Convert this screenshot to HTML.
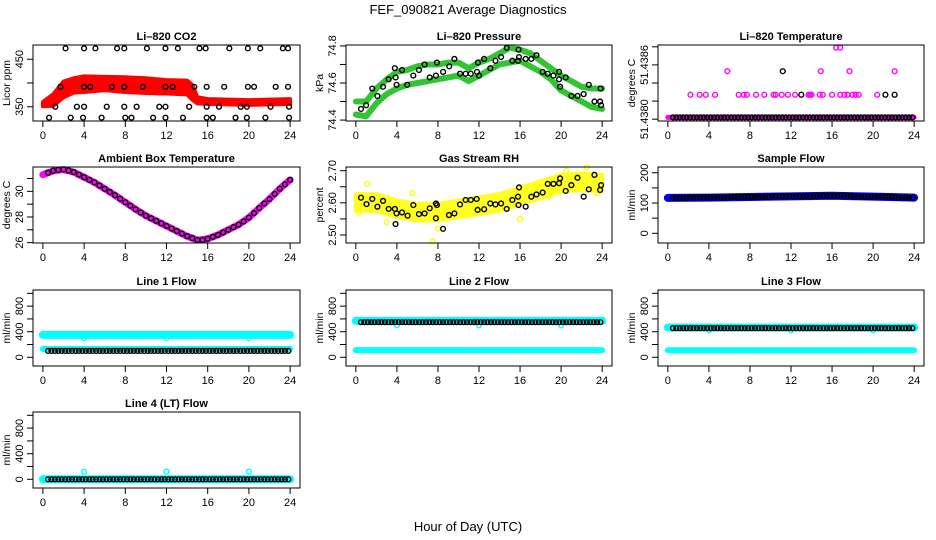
<!DOCTYPE html>
<html><head><meta charset="utf-8"><style>
html,body{margin:0;padding:0;background:#fff;}
svg{display:block;font-family:"Liberation Sans",Arial,sans-serif;}
</style></head><body>
<svg id="chart" width="936" height="540" viewBox="0 0 936 540" xmlns="http://www.w3.org/2000/svg">
<text x="468" y="14" text-anchor="middle" font-size="13">FEF_090821  Average Diagnostics</text>
<text x="468" y="531" text-anchor="middle" font-size="13">Hour of Day (UTC)</text>
</svg>
<script>
// ---------- data ----------
const xTicks=[0,4,8,12,16,20,24];
// CO2
const co2BandHours=[0,1,2,3,4,6,8,10,12,14,14.5,15,16,18,20,22,24];
const co2Upper=[360,376,403,410,414,413,412,410,406,405,396,370,366,365,364,365,366];
const co2Lower=[351,352,370,380,381,385,381,379,378,376,365,357,356,355,354,355,356];
const co2BlackHours=[2.2,4.0,5.1,7.2,7.9,10.1,11.9,13.1,15.2,15.8,18.1,19.9,21.1,23.3,23.8,
 1.7,4.0,4.6,6.7,7.9,9.7,11.9,12.6,14.7,15.9,17.6,19.9,20.5,22.6,23.8,
 1.2,3.3,4.0,6.2,7.9,9.1,11.3,11.9,14.2,15.9,17.1,19.2,19.8,22.1,23.9,
 0.6,2.7,3.9,5.7,8.0,8.6,10.7,11.9,13.6,15.9,16.5,18.7,19.8,21.6,23.9];
const co2BlackVals=[473,473,473,473,473,473,473,473,473,473,473,473,473,473,473,
 392,392,392,392,392,392,392,392,392,392,392,392,392,392,392,
 350,350,350,350,350,350,350,350,350,350,350,350,350,350,350,
 327,327,327,327,327,327,327,327,327,327,327,327,327,327,327];
// Pressure
const presHours=[0,1,2,3,4,5,6,7,8,9,10,11,12,13,14,15,16,17,18,19,20,21,22,23,24];
const presUpper=[74.50,74.50,74.57,74.62,74.66,74.67,74.69,74.70,74.70,74.71,74.71,74.68,74.71,74.73,74.76,74.79,74.78,74.76,74.72,74.68,74.64,74.61,74.58,74.57,74.57];
const presLower=[74.43,74.42,74.49,74.54,74.57,74.59,74.60,74.61,74.62,74.63,74.64,74.61,74.64,74.67,74.70,74.71,74.72,74.69,74.66,74.62,74.56,74.53,74.50,74.47,74.46];
const presBlackHours=[0.5,1.0,1.6,2.1,2.65,3.2,3.8,3.87,3.97,4.5,5.0,5.6,6.15,6.7,7.2,7.8,7.9,8.5,9.1,9.6,10.15,10.7,11.2,11.8,11.9,12.0,12.5,13.1,13.6,14.15,14.7,15.25,15.8,15.85,15.9,16.55,17.1,17.6,18.2,18.7,19.25,19.8,19.8,19.9,20.45,21.0,21.6,22.2,22.7,23.25,23.8,23.9,23.85];
const presBlackVals=[74.46,74.48,74.57,74.53,74.58,74.62,74.68,74.63,74.59,74.67,74.59,74.64,74.67,74.70,74.63,74.64,74.71,74.66,74.69,74.73,74.65,74.65,74.65,74.66,74.71,74.64,74.73,74.68,74.72,74.74,74.79,74.72,74.72,74.78,74.74,74.73,74.73,74.75,74.66,74.65,74.64,74.66,74.62,74.58,74.63,74.53,74.53,74.54,74.59,74.50,74.50,74.48,74.57];
// Li-820 temperature
const tempPinkHours=[2.2,3.1,3.7,4.6,6.9,7.4,7.7,8.6,9.4,10.3,10.5,11.1,11.7,12.4,13.7,13.85,14.0,14.8,15.1,16.0,16.8,17.2,17.5,18.0,18.3,18.6,20.4,5.8,14.9,17.7,22.1,16.4,16.8];
const tempPinkVals=[51.43827,51.43827,51.43827,51.43827,51.43827,51.43827,51.43827,51.43827,51.43827,51.43827,51.43827,51.43827,51.43827,51.43827,51.43827,51.43827,51.43827,51.43827,51.43827,51.43827,51.43827,51.43827,51.43827,51.43827,51.43827,51.43827,51.43827,51.43853,51.43853,51.43853,51.43853,51.43879,51.43879];
const tempBlackHours=[13.0,21.2,22.1,11.2];
const tempBlackVals=[51.43827,51.43827,51.43827,51.43853];
const tempBaseVal=51.43802;
// Ambient box temperature
const ambHours=[0,1,2,3,4,5,6,7,8,9,10,11,12,13,14,15,16,17,18,19,20,21,22,23,24];
const ambVals=[31.3,31.6,31.7,31.5,31.1,30.7,30.2,29.7,29.15,28.6,28.1,27.7,27.3,26.9,26.5,26.2,26.3,26.6,27.0,27.4,27.95,28.7,29.4,30.2,30.9];
const ambBlackHours=[0.5,1,1.5,2,2.5,3,3.5,4,4.5,5,5.5,6,6.5,7,7.5,8,8.5,9,9.5,10,10.5,11,11.5,12,12.5,13,13.5,14,14.5,15,15.5,16,16.5,17,17.5,18,18.5,19,19.5,20,20.5,21,21.5,22,22.5,23,23.5,24];
const ambBlackVals=[31.45,31.6,31.68,31.7,31.62,31.5,31.3,31.1,30.9,30.7,30.45,30.2,29.95,29.7,29.42,29.15,28.88,28.6,28.35,28.1,27.9,27.7,27.5,27.3,27.1,26.9,26.7,26.5,26.35,26.2,26.2,26.3,26.45,26.6,26.8,27.0,27.2,27.4,27.65,27.95,28.3,28.7,29.05,29.4,29.8,30.2,30.55,30.9];
// Gas stream RH
const rhHours=[0,2,4,6,8,10,12,14,16,18,20,22,24];
const rhCenter=[2.60,2.60,2.58,2.57,2.57,2.58,2.59,2.60,2.62,2.64,2.66,2.665,2.66];
const rhBlackHours=[0.5,1.04,1.6,2.1,2.65,3.2,3.8,3.87,3.97,4.5,5.04,5.6,6.15,6.7,7.2,7.8,7.8,7.9,8.5,9.07,9.6,10.15,10.7,11.2,11.77,11.87,12.5,13.1,13.6,14.15,14.7,15.25,15.8,15.85,15.9,16.55,17.1,17.6,18.2,18.7,19.25,19.8,19.9,20.45,21.0,21.6,22.2,22.7,23.25,23.8,23.9];
const rhBlackVals=[2.616,2.596,2.612,2.588,2.606,2.581,2.581,2.534,2.567,2.570,2.560,2.593,2.565,2.567,2.583,2.598,2.552,2.593,2.519,2.562,2.567,2.595,2.609,2.609,2.612,2.578,2.580,2.598,2.595,2.598,2.581,2.609,2.619,2.593,2.648,2.588,2.619,2.626,2.632,2.659,2.659,2.661,2.676,2.637,2.655,2.678,2.619,2.642,2.687,2.640,2.655];
const rhOutHours=[7.5,8.0,1.1,3.0,16.0,20.5,22.5,0.3,5.5,18.8,23.5];
const rhOutVals=[2.48,2.52,2.66,2.54,2.55,2.70,2.71,2.57,2.63,2.62,2.63];
// Sample flow
const sfHours=[0,4,8,12,16,20,24];
const sfVals=[117,118,120,122,124,121,118];
// Line flows
const l1High=350, l1Low=130, l1Black=100, l1Out=300;
const l2High=570, l2Low=113, l2Black=549, l2Out=500;
const l3High=465, l3Low=110, l3Black=456, l3Out=420;
const l4Cyan=0, l4Black=0, l4Out=120;
const outlierHours=[4,12,20];

// ---------- drawing ----------
const svg=document.getElementById('chart');
const NS='http://www.w3.org/2000/svg';
function mk(tag,attrs,parent){const e=document.createElementNS(NS,tag);for(const k in attrs)e.setAttribute(k,attrs[k]);(parent||svg).appendChild(e);return e;}
function panel(p){
  const g=mk('g',{});
  
  
  const sx=h=>p.x+(h+0.96)/25.92*p.w;
  const sy=v=>p.y+p.h-(v-p.ymin)/(p.ymax-p.ymin)*p.h;
  const t=mk('text',{x:p.x+p.w/2,y:p.y-5,'text-anchor':'middle','font-size':11,'font-weight':'bold'},g);
  t.textContent=p.title;
  
  
  const dg=mk('g',{},g);
  
  
  const box=mk('rect',{x:p.x,y:p.y,width:p.w,height:p.h,fill:'none',stroke:'#000','stroke-width':1},g);
  
  
  const xa=mk('g',{},g);
  
  
  mk('line',{x1:sx(0),x2:sx(24),y1:p.y+p.h,y2:p.y+p.h,stroke:'#000'},xa);
  xTicks.forEach(v=>{mk('line',{x1:sx(v),x2:sx(v),y1:p.y+p.h,y2:p.y+p.h+6,stroke:'#000'},xa);
    const l=mk('text',{x:sx(v),y:p.y+p.h+18,'text-anchor':'middle','font-size':11},xa);l.textContent=v;
    
    });
  const ya=mk('g',{},g);
  
  
  mk('line',{x1:p.x,x2:p.x,y1:sy(p.yt[0]),y2:sy(p.yt[p.yt.length-1]),stroke:'#000'},ya);
  p.yt.forEach((v,i)=>{const yy=sy(v);mk('line',{x1:p.x-6,x2:p.x,y1:yy,y2:yy,stroke:'#000'},ya);
    if(p.yl[i]){const l=mk('text',{x:0,y:0,'text-anchor':'middle','font-size':11,transform:`translate(${p.x-10},${yy}) rotate(-90)`},ya);l.textContent=p.yl[i];
    
    }});
  const yl=mk('text',{x:0,y:0,'text-anchor':'middle','font-size':10.5,transform:`translate(${p.x-23},${p.y+p.h/2}) rotate(-90)`},g);
  yl.textContent=p.ylab;
  
  
  return {g:dg,sx,sy};
}
function circ(P,h,v,color,name){const c=mk('circle',{cx:P.sx(h),cy:P.sy(v),r:2.4,fill:'none',stroke:color,'stroke-width':1.4},P.g);
  
  }
function line(P,hs,vs,color,w,name){const l=mk('polyline',{points:hs.map((h,i)=>P.sx(h)+','+P.sy(vs[i])).join(' '),fill:'none',stroke:color,'stroke-width':w,'stroke-linejoin':'round','stroke-linecap':'round'},P.g);
  
  }
function area(P,hs,up,lo,color,name){const pts=hs.map((h,i)=>P.sx(h)+','+P.sy(up[i])).concat(hs.slice().reverse().map((h,i)=>P.sx(h)+','+P.sy(lo[lo.length-1-i])));
  const a=mk('polygon',{points:pts.join(' '),fill:color,stroke:color,'stroke-width':4,'stroke-linejoin':'round'},P.g);
  
  }
const sampHours=[];for(let h=0.5;h<=24.01;h+=1/3)sampHours.push(+h.toFixed(2));
const C1=33,C2=346,C3=658,W1=267,W=266,R=[45,167,290,412],H=76;
const flowT=[0,200,400,600,800,1000],flowL=['0','','400','','800',''];

// CO2
let P=panel({name:'co2-panel',title:'Li\u2013820 CO2',x:C1,w:W1,y:R[0],h:H,ymin:320,ymax:480,yt:[350,400,450],yl:['350','','450'],ylab:'Licor ppm'});
area(P,co2BandHours,co2Upper,co2Lower,'#ff0000','co2-red-band');
co2BlackHours.forEach((h,i)=>circ(P,h,co2BlackVals[i],'#000','co2-black-point'));
// Pressure
P=panel({name:'pressure-panel',title:'Li\u2013820 Pressure',x:C2,w:W,y:R[0],h:H,ymin:74.395,ymax:74.805,yt:[74.4,74.5,74.6,74.7,74.8],yl:['74.4','','74.6','','74.8'],ylab:'kPa'});
line(P,presHours,presUpper,'#33c433',6,'pressure-upper-band');
line(P,presHours,presLower,'#33c433',6,'pressure-lower-band');
presBlackHours.forEach((h,i)=>circ(P,h,presBlackVals[i],'#000','pressure-black-point'));
// Li-820 temperature
P=panel({name:'li820-temp-panel',title:'Li\u2013820 Temperature',x:C3,w:W,y:R[0],h:H,ymin:51.43798,ymax:51.43882,yt:[51.4380,51.4382,51.4384,51.4386,51.4388],yl:['51.4380','','','51.4386',''],ylab:'degrees C'});
line(P,[0,24],[tempBaseVal,tempBaseVal],'#ff00ff',5,'temp-base-band');
tempPinkHours.forEach((h,i)=>circ(P,h,tempPinkVals[i],'#ff00ff','temp-pink-point'));
sampHours.forEach(h=>circ(P,h,tempBaseVal,'#000','temp-black-point'));
tempBlackHours.forEach((h,i)=>circ(P,h,tempBlackVals[i],'#000','temp-black-point'));
// Ambient
P=panel({name:'ambient-temp-panel',title:'Ambient Box Temperature',x:C1,w:W1,y:R[1],h:H,ymin:25.97,ymax:31.9,yt:[26,27,28,29,30,31],yl:['26','','28','','30',''],ylab:'degrees C'});
line(P,ambHours,ambVals,'#ff00ff',7,'ambient-magenta-band');
ambBlackHours.forEach((h,i)=>circ(P,h,ambBlackVals[i],'#000','ambient-black-point'));
// RH
P=panel({name:'rh-panel',title:'Gas Stream RH',x:C2,w:W,y:R[1],h:H,ymin:2.475,ymax:2.7115,yt:[2.50,2.55,2.60,2.65,2.70],yl:['2.50','','2.60','','2.70'],ylab:'percent'});
area(P,rhHours,rhCenter.map(v=>v+0.027),rhCenter.map(v=>v-0.025),'#ffff22','rh-yellow-cloud');
rhOutHours.forEach((h,i)=>circ(P,h,rhOutVals[i],'#ffff00','rh-yellow-point'));
rhBlackHours.forEach((h,i)=>circ(P,h,rhBlackVals[i],'#000','rh-black-point'));
// Sample flow
P=panel({name:'sample-flow-panel',title:'Sample Flow',x:C3,w:W,y:R[1],h:H,ymin:-32,ymax:219,yt:[0,50,100,150,200],yl:['0','','100','','200'],ylab:'ml/min'});
line(P,sfHours,sfVals,'#0000ee',8,'sample-flow-blue-band');
sampHours.forEach((h,i)=>circ(P,h,sfVals[Math.min(6,Math.round(h/4))],'#000','sample-flow-black-point'));
// Line flows
function flowPanel(name,title,col,w,row,hi,lo,bl,out){
  const P=panel({name,title,x:col,w,y:R[row],h:H,ymin:-136,ymax:1052,yt:flowT,yl:flowL,ylab:'ml/min'});
  if(hi!==null) line(P,[0,24],[hi,hi],'#00ffff',8,'cyan-high-band');
  if(lo!==null) line(P,[0,24],[lo,lo],'#00ffff',6,'cyan-low-band');
  outlierHours.forEach(h=>circ(P,h,out,'#00ffff','cyan-outlier-point'));
  sampHours.forEach(h=>circ(P,h,bl,'#000','black-flow-point'));
}
flowPanel('line1-flow-panel','Line 1 Flow',C1,W1,2,l1High,l1Low,l1Black,l1Out);
flowPanel('line2-flow-panel','Line 2 Flow',C2,W,2,l2High,l2Low,l2Black,l2Out);
flowPanel('line3-flow-panel','Line 3 Flow',C3,W,2,l3High,l3Low,l3Black,l3Out);
flowPanel('line4-flow-panel','Line 4 (LT) Flow',C1,W1,3,l4Cyan,null,l4Black,l4Out);
</script>
</body></html>
